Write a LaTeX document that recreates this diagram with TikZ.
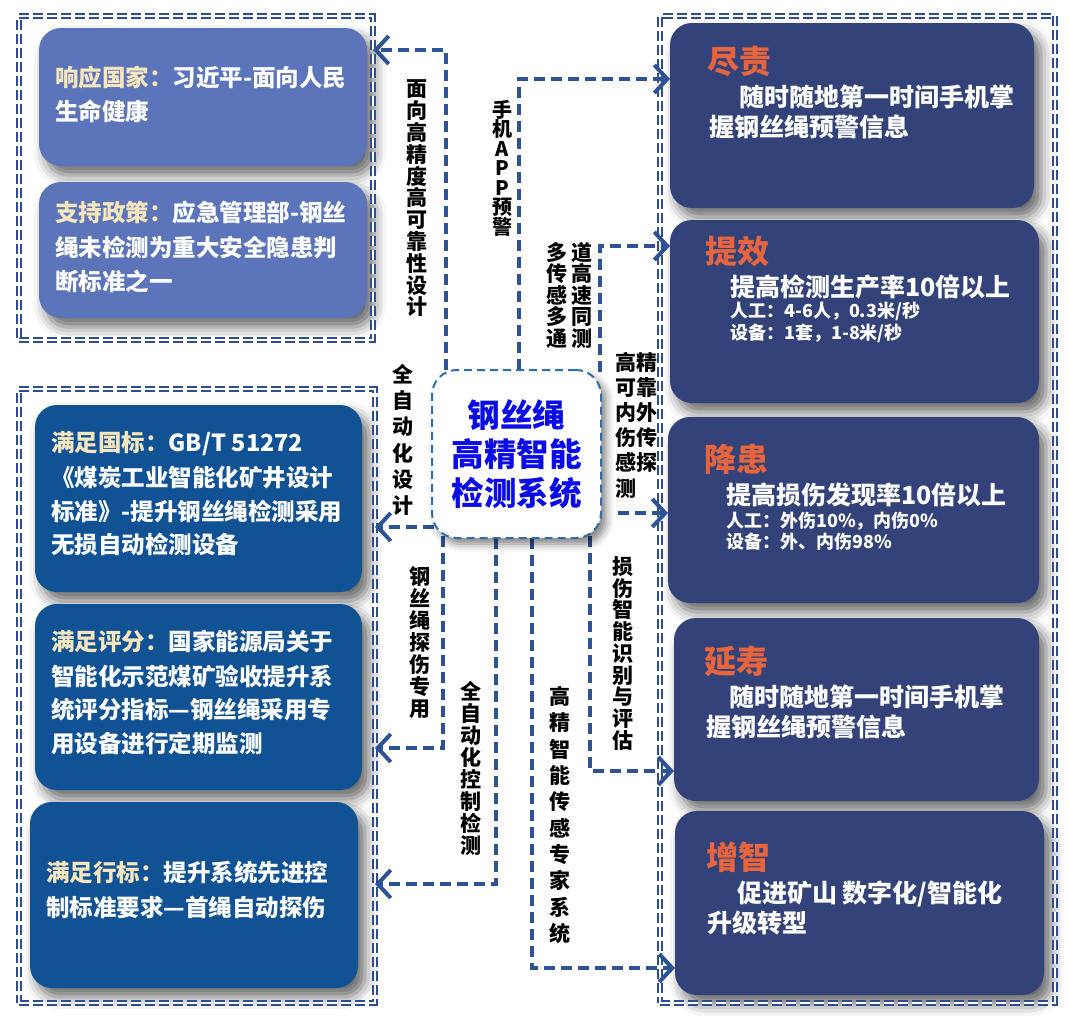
\documentclass[tikz,border=0pt]{standalone}
\usepackage{fontspec}
\setmainfont{Noto Sans CJK SC}
\usetikzlibrary{arrows.meta,shadows.blur}
\definecolor{connc}{RGB}{45,82,150}
\definecolor{framec}{RGB}{48,76,145}
\definecolor{boxA}{RGB}{92,117,186}
\definecolor{boxB}{RGB}{16,82,148}
\definecolor{boxC}{RGB}{51,67,121}
\definecolor{cream}{RGB}{245,230,190}
\definecolor{titlec}{RGB}{230,100,62}
\definecolor{ctext}{RGB}{12,12,230}
\definecolor{cborder}{RGB}{46,110,175}
\begin{document}
\begin{tikzpicture}[x=1pt,y=-1pt,
  frame/.style={draw=framec, line width=1.6pt, double=white, double distance=2pt,
    dash pattern=on 10pt off 4pt, inner sep=0, outer sep=0},
  card/.style={rounded corners=22pt, inner sep=0, outer sep=0,
    blur shadow={shadow xshift=7pt, shadow yshift=-9pt, shadow blur radius=12pt, shadow opacity=60}},
  conn/.style={draw=connc, line width=4.5pt, dash pattern=on 11pt off 6pt,
    -{Straight Barb[length=13pt,width=28pt,line width=4pt]}},
  vlab/.style={align=center, inner sep=0, text=black,
    font=\bfseries\fontsize{21}{#1}\selectfont},
  lt/.style={anchor=base west, inner sep=0, text=white,
    font=\bfseries\fontsize{23.5}{23.5}\selectfont},
  rt/.style={anchor=base west, inner sep=0, text=white,
    font=\bfseries\fontsize{25}{25}\selectfont},
  st/.style={anchor=base west, inner sep=0, text=white,
    font=\bfseries\fontsize{18}{18}\selectfont},
  tt/.style={anchor=base west, inner sep=0, text=titlec,
    font=\bfseries\fontsize{32}{32}\selectfont},
]
\useasboundingbox (0,0) rectangle (1069,1023);

% ---------- cards ----------
\node[card, fill=boxA, minimum width=328, minimum height=138] (b1) at (203,97) {};
\node[card, fill=boxA, minimum width=328, minimum height=136] (b2) at (203,250) {};
\node[card, fill=boxB, minimum width=327, minimum height=187] (b3) at (198.5,498.5) {};
\node[card, fill=boxB, minimum width=327, minimum height=186] (b4) at (198.5,697) {};
\node[card, fill=boxB, minimum width=328, minimum height=186] (b5) at (194,895) {};

\node[card, fill=boxC, minimum width=364, minimum height=185] (r1) at (852,115.5) {};
\node[card, fill=boxC, minimum width=369, minimum height=183] (r2) at (854.5,311.5) {};
\node[card, fill=boxC, minimum width=371, minimum height=186] (r3) at (853.5,510) {};
\node[card, fill=boxC, minimum width=365, minimum height=183] (r4) at (856.5,709.5) {};
\node[card, fill=boxC, minimum width=369, minimum height=184] (r5) at (859.5,903) {};

% ---------- frames ----------
\node[frame, minimum width=354, minimum height=324] (f1) at (196,178) {};
\node[frame, minimum width=356, minimum height=614] (f2) at (197,696) {};
\node[frame, minimum width=395, minimum height=987] (f3) at (857.5,509.5) {};

% ---------- left texts ----------
\node[lt] (b1a) at (55,86.5) {{\color{cream}响应国家：}习近平-面向人民};
\node[lt] (b1b) at (55,120.5) {生命健康};
\node[lt] (b2a) at (55,221.5) {{\color{cream}支持政策：}应急管理部-钢丝};
\node[lt] (b2b) at (55,256.5) {绳未检测为重大安全隐患判};
\node[lt] (b2c) at (55,290.5) {断标准之一};
\node[lt] (b3a) at (51,451.5) {{\color{cream}满足国标：}GB/T 51272};
\node[lt] (b3b) at (51,486.5) {《煤炭工业智能化矿井设计};
\node[lt] (b3c) at (51,520.5) {标准》-提升钢丝绳检测采用};
\node[lt] (b3d) at (51,553.5) {无损自动检测设备};
\node[lt] (b4a) at (51,650.5) {{\color{cream}满足评分：}国家能源局关于};
\node[lt] (b4b) at (51,685.5) {智能化示范煤矿验收提升系};
\node[lt] (b4c) at (51,718.5) {统评分指标—钢丝绳采用专};
\node[lt] (b4d) at (51,752.5) {用设备进行定期监测};
\node[lt] (b5a) at (46,881.5) {{\color{cream}满足行标：}提升系统先进控};
\node[lt] (b5b) at (46,916.5) {制标准要求—首绳自动探伤};

% ---------- right texts ----------
\node[tt] (r1t) at (707,73.5) {尽责};
\node[rt] (r1a) at (739,106) {随时随地第一时间手机掌};
\node[rt] (r1b) at (709,136) {握钢丝绳预警信息};
\node[tt] (r2t) at (705,263.5) {提效};
\node[rt] (r2a) at (730,296) {提高检测生产率10倍以上};
\node[st] (r2b) at (730,317.5) {人工：4-6人，0.3米/秒};
\node[st] (r2c) at (730,339.5) {设备：1套，1-8米/秒};
\node[tt] (r3t) at (704,471.5) {降患};
\node[rt] (r3a) at (726,504) {提高损伤发现率10倍以上};
\node[st] (r3b) at (726,527.5) {人工：外伤10\%，内伤0\%};
\node[st] (r3c) at (726,548.5) {设备：外、内伤98\%};
\node[tt] (r4t) at (704,673.5) {延寿};
\node[rt] (r4a) at (729,706) {随时随地第一时间手机掌};
\node[rt] (r4b) at (706,736) {握钢丝绳预警信息};
\node[tt] (r5t) at (706,869.5) {增智};
\node[rt] (r5a) at (737,902) {促进矿山 数字化/智能化};
\node[rt] (r5b) at (707,932) {升级转型};

% ---------- connectors ----------
\coordinate (s4) at (618,513);
\draw[conn] (446,370) |- (f1.east |- 0,50);
\draw[conn] (519,370) |- (r1.west |- 0,79);
\draw[conn] (600,372) |- (r2.west |- 0,246);
\draw[conn] (s4) -- (r3.west |- s4);
\draw[conn] (590,536) |- (r4.west |- 0,771);
\draw[conn] (532,538) |- (r5.west |- 0,968);
\draw[conn] (496,538) |- (f2.east |- 0,884);
\draw[conn] (443,536) |- (f2.east |- 0,748);
\draw[conn] (434,527) -- (f2.east |- 0,527);

% ---------- centre ----------
\node[draw=cborder, line width=2pt, dash pattern=on 8pt off 5pt, fill=white,
  rounded corners=25pt, minimum width=169, minimum height=168, inner sep=0,
  align=center, text=ctext, font=\bfseries\fontsize{32.5}{39}\selectfont,
  blur shadow={shadow xshift=5pt, shadow yshift=-6pt, shadow blur radius=8pt, shadow opacity=50}]
  (c) at (516.5,454) {钢丝绳\\高精智能\\检测系统};

% ---------- connector labels ----------
\node[vlab=21.8] (l1) at (417,198.5) {面\\向\\高\\精\\度\\高\\可\\靠\\性\\设\\计};
\node[align=center, inner sep=0, text=black, font=\bfseries\fontsize{20}{19.5}\selectfont]
  (l2) at (502,168) {手\\机\\A\\P\\P\\预\\警};
\node[vlab=21.5] (l3a) at (582,295) {道\\高\\速\\同\\测};
\node[vlab=21.5] (l3b) at (557,295) {多\\传\\感\\多\\通};
\node[vlab=25.2, align=left] (l4) at (636,425) {高精\\可靠\\内外\\伤传\\感探\\测};
\node[vlab=21.75] (l5) at (623,653.5) {损\\伤\\智\\能\\识\\别\\与\\评\\估};
\node[vlab=26.3] (l6) at (560,815) {高\\精\\智\\能\\传\\感\\专\\家\\系\\统};
\node[vlab=22] (l7) at (471,768.5) {全\\自\\动\\化\\控\\制\\检\\测};
\node[vlab=22] (l8) at (420,642.5) {钢\\丝\\绳\\探\\伤\\专\\用};
\node[vlab=26.2] (l9) at (403,440) {全\\自\\动\\化\\设\\计};
\end{tikzpicture}
\end{document}
